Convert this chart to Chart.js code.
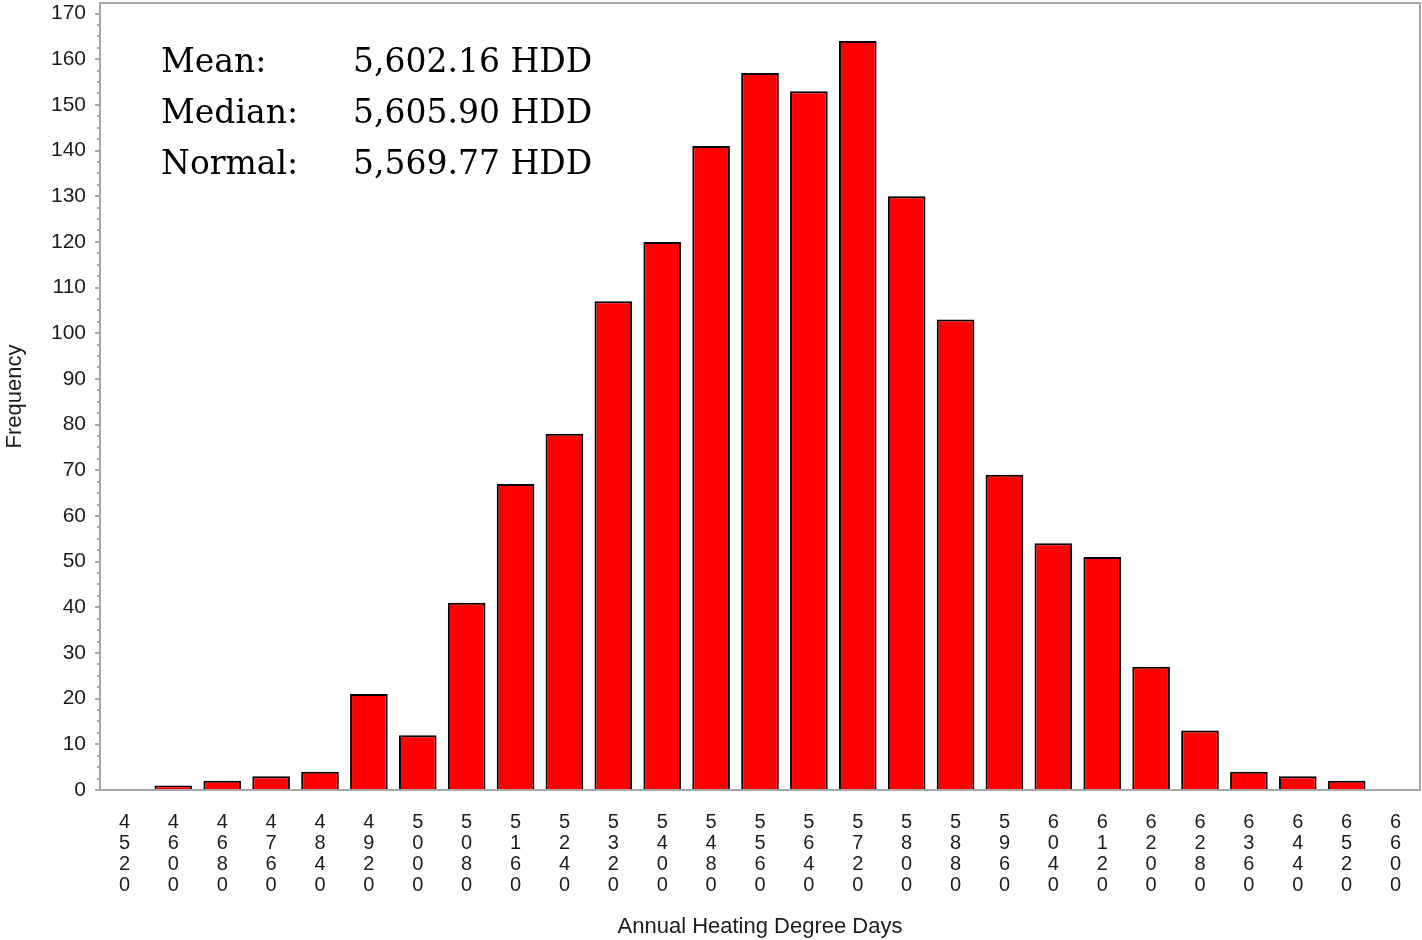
<!DOCTYPE html>
<html>
<head>
<meta charset="utf-8">
<title>Annual Heating Degree Days</title>
<script src="https://cdn.jsdelivr.net/npm/chart.js@4.4.1/dist/chart.umd.min.js"></script>
<style>
  html, body { margin: 0; padding: 0; background: #fff; }
  canvas { display: block; }
</style>
</head>
<body>
<canvas id="chart" width="1422" height="940"></canvas>
<script>
// histogram bins (start of each 80 HDD bin) and their counts
const binStarts = [4520, 4600, 4680, 4760, 4840, 4920, 5000, 5080, 5160, 5240, 5320, 5400, 5480, 5560,
  5640, 5720, 5800, 5880, 5960, 6040, 6120, 6200, 6280, 6360, 6440, 6520, 6600];
const frequencies = [0, 1, 2, 3, 4, 21, 12, 41, 67, 78, 107, 120, 141, 157,
  153, 164, 130, 103, 69, 54, 51, 27, 13, 4, 3, 2, 0];

// summary stats shown in the corner
const statNames = ['Mean:', 'Median:', 'Normal:'];
const statValues = [5602.16, 5605.90, 5569.77];

const yMax = 172.3;
const frameColor = '#a4a8ac';
const textColor = '#1c1c1c';

// each tick label stacked one digit per line
const tickLabels = binStarts.map(v => String(v).split(''));

Chart.defaults.font.family = '"Liberation Sans", Arial, sans-serif';
Chart.defaults.color = textColor;

const minorTicks = {
  id: 'minorTicks',
  afterDraw(chart){
    const {ctx, scales:{y}} = chart;
    ctx.save();
    ctx.strokeStyle = frameColor;
    ctx.lineWidth = 2;
    for(let v=2.5; v<yMax; v+=2.5){
      if(v % 10 === 0) continue;
      const py = Math.round(y.getPixelForValue(v));
      ctx.beginPath();
      ctx.moveTo(y.right - 3, py);
      ctx.lineTo(y.right, py);
      ctx.stroke();
    }
    ctx.restore();
  }
};

const frame = {
  id: 'frame',
  beforeDatasetsDraw(chart){
    const {ctx, chartArea:a} = chart;
    ctx.save();
    ctx.strokeStyle = frameColor;
    ctx.lineWidth = 2;
    ctx.beginPath();
    ctx.moveTo(a.left, a.top);
    ctx.lineTo(a.right, a.top);
    ctx.lineTo(a.right, a.bottom);
    ctx.stroke();
    ctx.restore();
  }
};

const stats = {
  id: 'stats',
  afterDraw(chart){
    const {ctx} = chart;
    ctx.save();
    ctx.fillStyle = '#000';
    ctx.font = '33px "DejaVu Serif", serif';
    ctx.textBaseline = 'alphabetic';
    statNames.forEach((name, i)=>{
      const y = 72 + i * 51;
      ctx.fillText(name, 161, y);
      const val = statValues[i].toLocaleString('en-US', {minimumFractionDigits:2, maximumFractionDigits:2});
      ctx.fillText(val + ' HDD', 353, y);
    });
    ctx.restore();
  }
};

new Chart(document.getElementById('chart'), {
  type: 'bar',
  data: {
    labels: tickLabels,
    datasets: [{
      label: 'Frequency',
      data: frequencies,
      backgroundColor: '#ff0000',
      borderColor: '#000',
      borderWidth: 2,
      barPercentage: 0.77,
      categoryPercentage: 1
    }]
  },
  options: {
    responsive: false,
    devicePixelRatio: 1,
    animation: false,
    layout: {padding: {top: 3, right: 2, left: 0, bottom: 0}},
    plugins: {legend: {display: false}, tooltip: {enabled: false}},
    scales: {
      x: {
        grid: {display: false, drawTicks: false},
        border: {color: frameColor, width: 2},
        ticks: {
          autoSkip: false, maxRotation: 0, padding: 22,
          font: {size: 20, lineHeight: 1.05}, color: textColor
        },
        title: {
          display: true, text: 'Annual Heating Degree Days',
          font: {size: 22}, color: textColor, padding: {top: 0, bottom: 0}
        },
        afterFit(s){ s.height = 150; s.paddingLeft = 0; s.paddingRight = 0; }
      },
      y: {
        min: 0, max: yMax,
        grid: {drawOnChartArea: false, drawTicks: true, tickLength: 5, color: frameColor, lineWidth: 2},
        border: {color: frameColor, width: 2},
        ticks: {stepSize: 10, includeBounds: false, padding: 9, font: {size: 21}, color: textColor},
        title: {
          display: true, text: 'Frequency',
          font: {size: 22}, color: textColor, padding: {top: 2, bottom: 2}
        },
        afterFit(s){ s.width = 100; s.paddingTop = 0; s.paddingBottom = 0; }
      }
    }
  },
  plugins: [minorTicks, frame, stats]
});
</script>
</body>
</html>
